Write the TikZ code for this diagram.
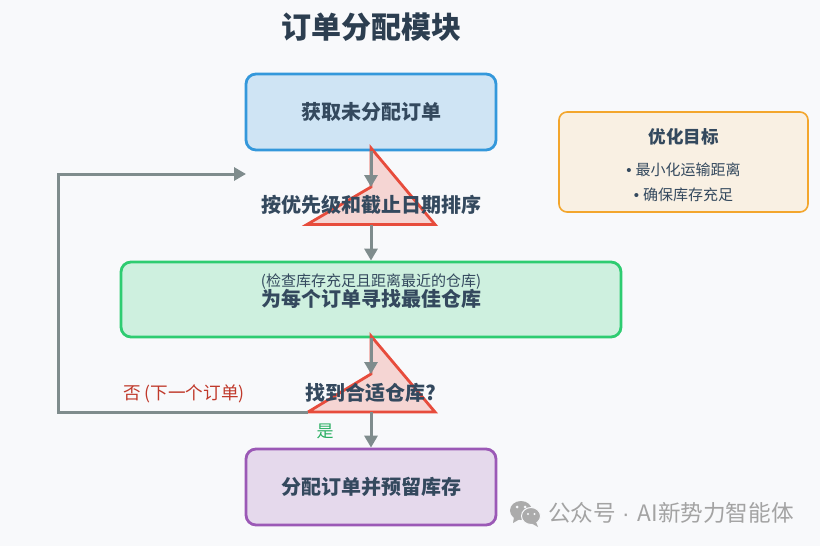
\documentclass[tikz,border=0pt]{standalone}
\usepackage{fontspec}
\setmainfont{Noto Sans CJK SC}
\newfontfamily\bulletfont{Liberation Sans}
\usepackage{tikz}
\usetikzlibrary{shapes, arrows.meta}

\definecolor{bgpage}{HTML}{F8F9FB}
\definecolor{inkdark}{HTML}{34495E}
\definecolor{inkline}{HTML}{7F8C8D}
\definecolor{trifill}{HTML}{F5D5D3}
\definecolor{triline}{HTML}{E74C3C}
\newcommand{\fsize}[1]{\fontsize{#1}{#1}\selectfont}
\newcommand{\dotmark}{{\bulletfont •}\kern4pt}

\tikzset{
  flowbox/.style={rounded corners=10pt, line width=2.8pt, inner sep=0pt, text=inkdark, font=\fsize{20}\bfseries},
  flowtext/.style={inner sep=0pt, text=inkdark, font=\fsize{20}\bfseries},
  smalltext/.style={inner sep=0pt, text=inkdark, font=\fsize{15}},
  triangle/.style={draw=triline, fill=trifill, line width=2.8pt},
  flowline/.style={draw=inkline, line width=3pt, -{Triangle[length=12pt,width=13pt]}}
}

\begin{document}
\begin{tikzpicture}[x=1pt, y=-1pt]
\fill[bgpage] (0,0) rectangle (820,546);

\node[inner sep=0pt, text=inkdark!85!black, font=\fsize{30}\bfseries] (title) at (371,27) {订单分配模块};

\node[flowbox, draw={rgb,255:red,52;green,152;blue,219}, fill={rgb,255:red,207;green,228;blue,244}, minimum width=250pt, minimum height=76pt] (fetch) at (371,112) {获取未分配订单};
\node[flowbox, draw={rgb,255:red,46;green,204;blue,113}, fill={rgb,255:red,206;green,240;blue,223}, minimum width=500pt, minimum height=75pt] (search) at (371,299.5) {};
\node[flowbox, draw={rgb,255:red,155;green,89;blue,182}, fill={rgb,255:red,229;green,217;blue,236}, minimum width=250pt, minimum height=76pt] (assign) at (371,487) {分配订单并预留库存};
\node[rounded corners=8pt, line width=1.6pt, draw={rgb,255:red,243;green,166;blue,45}, fill={rgb,255:red,249;green,240;blue,227}, minimum width=249pt, minimum height=100pt] (goal) at (683.5,162) {};

% triangles
\coordinate (sorttop) at (371,148);
\coordinate (sortright) at (435,224.5);
\coordinate (sortleft) at (307,224.5);
\coordinate (sortmid) at (371,187);
\coordinate (checktop) at (371,336);
\coordinate (checkright) at (435,412);
\coordinate (checkleft) at (308,412);
\coordinate (checkmid) at (371,374);
\coordinate (sortbase) at (371,224.5);
\coordinate (checkbase) at (371,412);
\coordinate (loopcorner) at (58,412);
\coordinate (loopup) at (58,174);
\coordinate (loopend) at (246,174);
\draw[triangle] (sorttop) -- (sortright) -- (sortleft) -- (sortmid) -- cycle;
\draw[triangle] (checktop) -- (checkright) -- (checkleft) -- (checkmid) -- cycle;

\draw[flowline] (fetch.south) -- (sortmid);
\draw[flowline] (sortbase) -- (search.north);
\draw[flowline] (search.south) -- (checkmid);
\draw[flowline] (checkbase) -- (assign.north);
\draw[flowline] (checkleft) -- (loopcorner) -- (loopup) -- (loopend);

\node[flowtext] (sort) at (371,205) {按优先级和截止日期排序};
\node[smalltext] (searchnote) at (371,282) {(检查库存充足且距离最近的仓库)};
\node[flowtext] (searchtext) at (371,299) {为每个订单寻找最佳仓库};
\node[flowtext] (check) at (371,393) {找到合适仓库?};
\node[inner sep=0pt, text={rgb,255:red,192;green,57;blue,43}, font=\fsize{17.6}] (nolabel) at (184,394) {否 (下一个订单)};
\node[inner sep=0pt, text={rgb,255:red,39;green,174;blue,96}, font=\fsize{17}] (yeslabel) at (325,431) {是};

\node[inner sep=0pt, text=inkdark, font=\fsize{17.5}\bfseries] (goaltitle) at (683.5,137) {优化目标};
\node[smalltext] (goalone) at (683.5,170) {\dotmark 最小化运输距离};
\node[smalltext] (goaltwo) at (683.5,195) {\dotmark 确保库存充足};

% watermark
\fill[black!33] (521,510.5) ellipse (11pt and 9.5pt);
\fill[black!33] (514,517) -- (513,523) -- (520,519) -- cycle;
\fill[black!33, draw=bgpage, line width=1pt] (531,516) ellipse (9.5pt and 8.5pt);
\fill[black!33] (536,522) -- (538,527) -- (531,523) -- cycle;
\fill[bgpage] (517,507) circle (1.5pt) (525,507) circle (1.5pt) (528,514) circle (1.2pt) (534.5,514) circle (1.2pt);
\node[inner sep=0pt, text=black!36, font=\fsize{22.6}] (mark) at (671,513) {公众号\kern6pt{\bulletfont ·}\kern8pt AI新势力智能体};
\end{tikzpicture}
\end{document}
